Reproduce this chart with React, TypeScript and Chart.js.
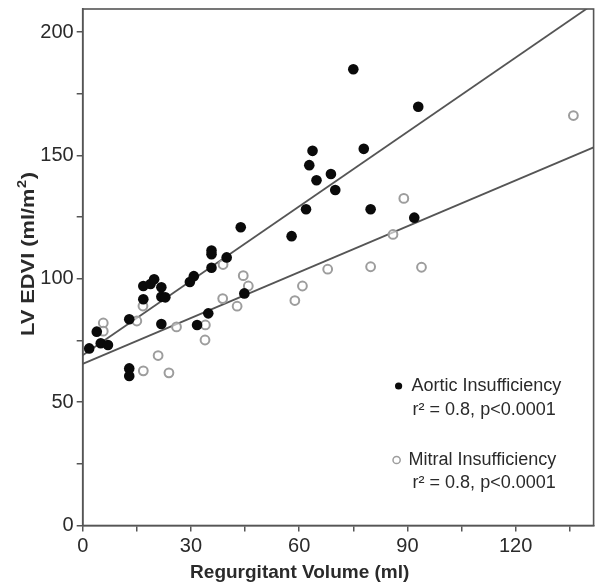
import React, { useEffect, useRef } from 'react';
import { Chart, registerables } from 'chart.js';

Chart.register(...registerables);

// Aortic insufficiency (filled dots)
const aorticX = [1.8, 3.9, 5.0, 7.0, 12.9, 12.9, 12.9, 16.8, 16.8, 18.8, 19.8, 21.8, 21.8, 22.9, 21.8, 29.7, 30.8, 31.7, 34.8, 35.7, 35.7, 35.7, 39.9, 43.8, 44.8, 57.9, 61.9, 62.8, 63.7, 64.8, 68.8, 70.0, 75.0, 77.9, 79.8, 91.9, 93.0];
const aorticY = [71.8, 78.6, 73.9, 73.2, 63.7, 60.6, 83.6, 97.1, 91.7, 97.9, 99.8, 96.6, 92.7, 92.5, 81.7, 98.7, 101.1, 81.3, 86.0, 111.5, 110.0, 104.5, 108.7, 120.9, 94.1, 117.3, 128.2, 146.1, 151.9, 140.0, 142.5, 136.0, 185.0, 152.7, 128.2, 124.8, 169.8];

// Mitral insufficiency (open circles)
const mitralX = [5.7, 5.7, 15.0, 16.7, 16.8, 20.9, 23.9, 26.0, 34.0, 33.9, 38.8, 38.9, 42.8, 44.5, 45.9, 58.8, 60.9, 67.9, 79.8, 86.0, 89.0, 93.9, 136.0];
const mitralY = [82.1, 78.8, 82.9, 89.0, 62.7, 68.9, 61.9, 80.5, 81.3, 75.2, 92.0, 105.8, 88.9, 101.3, 97.1, 91.2, 97.1, 103.9, 104.9, 118.0, 132.6, 104.7, 166.2];

// Regression fits [aortic, mitral]
const fitIntercepts = [69.0, 65.5];
const fitSlopes = [1.006, 0.62];

const seriesNames = ['Aortic Insufficiency', 'Mitral Insufficiency'];
const seriesStats = ['r\u00B2 = 0.8, p<0.0001', 'r\u00B2 = 0.8, p<0.0001'];

const xTickValues = [0, 15, 30, 45, 60, 75, 90, 105, 120, 135];
const xTickLabels = ['0', '', '30', '', '60', '', '90', '', '120', ''];
const yTickValues = [0, 25, 50, 75, 100, 125, 150, 175, 200];
const yTickLabels = ['0', '', '50', '', '100', '', '150', '', '200'];

const xAxisTitle = 'Regurgitant Volume (ml)';
const yAxisTitleMain = 'LV EDVI (ml/m';
const yAxisTitleSup = '2';
const yAxisTitleEnd = ')';

const X_MIN = 0;
const X_MAX = 141.6;
const Y_MIN = 0;
const Y_MAX = 209.4;

const FONT = '"Liberation Sans", Arial, Helvetica, sans-serif';
const AXIS_COLOR = '#555555';
const TEXT_COLOR = '#2a2a2a';

const framePlugin = {
  id: 'framePlugin',
  afterDatasetsDraw(chart: any) {
    const { ctx, chartArea } = chart;
    ctx.save();
    ctx.strokeStyle = AXIS_COLOR;
    ctx.lineWidth = 1.6;
    ctx.strokeRect(chartArea.left, chartArea.top, chartArea.right - chartArea.left, chartArea.bottom - chartArea.top);
    ctx.restore();
  },
};

const titlesPlugin = {
  id: 'titlesPlugin',
  afterDraw(chart: any) {
    const { ctx, chartArea } = chart;
    ctx.save();
    ctx.fillStyle = TEXT_COLOR;
    ctx.font = `bold 19px ${FONT}`;
    ctx.textAlign = 'center';
    ctx.textBaseline = 'middle';
    ctx.fillText(xAxisTitle, chartArea.left + 217, chartArea.bottom + 47);

    // y title: main + superscript, stretched along its length to match
    const mainFont = `bold 18px ${FONT}`;
    const supFont = `bold 12px ${FONT}`;
    ctx.font = mainFont;
    const wMain = ctx.measureText(yAxisTitleMain).width;
    const wEnd = ctx.measureText(yAxisTitleEnd).width;
    ctx.font = supFont;
    const wSup = ctx.measureText(yAxisTitleSup).width + 1;
    const total = wMain + wSup + wEnd;
    const target = 164;
    const sx = target / total;
    ctx.translate(27, chartArea.top + 245);
    ctx.rotate(-Math.PI / 2);
    ctx.scale(sx, 1);
    ctx.textAlign = 'left';
    ctx.textBaseline = 'alphabetic';
    const x0 = -total / 2;
    ctx.font = mainFont;
    ctx.fillText(yAxisTitleMain, x0, 6.5);
    ctx.font = supFont;
    ctx.fillText(yAxisTitleSup, x0 + wMain + 0.5, -1.5);
    ctx.font = mainFont;
    ctx.fillText(yAxisTitleEnd, x0 + wMain + wSup, 6.5);
    ctx.restore();
  },
};

const legendPlugin = {
  id: 'legendPlugin',
  afterDraw(chart: any) {
    const { ctx, chartArea } = chart;
    const r = chartArea.right;
    const rows = [
      { dotX: r - 195, y: 386, textX: r - 182, statY: 410, filled: true },
      { dotX: r - 197, y: 460, textX: r - 185, statY: 483, filled: false },
    ];
    ctx.save();
    ctx.font = `18px ${FONT}`;
    ctx.textBaseline = 'middle';
    ctx.textAlign = 'left';
    rows.forEach((row, i) => {
      ctx.beginPath();
      ctx.arc(row.dotX, row.y, 3.6, 0, Math.PI * 2);
      if (row.filled) {
        ctx.fillStyle = '#0a0a0a';
        ctx.fill();
      } else {
        ctx.strokeStyle = '#9d9d9d';
        ctx.lineWidth = 1.5;
        ctx.stroke();
      }
      ctx.fillStyle = TEXT_COLOR;
      ctx.fillText(seriesNames[i], row.textX, row.y);
      ctx.fillText(seriesStats[i], r - 181, row.statY);
    });
    ctx.restore();
  },
};

export default function App() {
  const canvasRef = useRef<HTMLCanvasElement | null>(null);

  useEffect(() => {
    document.body.style.margin = '0';
    const canvas = canvasRef.current;
    if (!canvas) return;

    const aorticPts = aorticX.map((x, i) => ({ x, y: aorticY[i] }));
    const mitralPts = mitralX.map((x, i) => ({ x, y: mitralY[i] }));
    const fitLine = (k: number) => [
      { x: X_MIN, y: fitIntercepts[k] + fitSlopes[k] * X_MIN },
      { x: X_MAX, y: fitIntercepts[k] + fitSlopes[k] * X_MAX },
    ];

    const chart = new Chart(canvas, {
      type: 'scatter',
      data: {
        datasets: [
          {
            label: seriesNames[0],
            data: aorticPts,
            pointRadius: 5.3,
            pointBackgroundColor: '#0a0a0a',
            pointBorderColor: '#0a0a0a',
            pointBorderWidth: 0,
            order: 0,
          },
          {
            label: seriesNames[1],
            data: mitralPts,
            pointRadius: 4.4,
            pointBackgroundColor: 'rgba(255,255,255,0.6)',
            pointBorderColor: '#9d9d9d',
            pointBorderWidth: 2,
            order: 1,
          },
          {
            label: 'fit aortic',
            data: fitLine(0),
            showLine: true,
            pointRadius: 0,
            borderColor: AXIS_COLOR,
            borderWidth: 1.8,
            order: 2,
          },
          {
            label: 'fit mitral',
            data: fitLine(1),
            showLine: true,
            pointRadius: 0,
            borderColor: AXIS_COLOR,
            borderWidth: 1.8,
            order: 2,
          },
        ],
      },
      options: {
        responsive: false,
        animation: false,
        layout: { padding: { top: 9, right: 6, left: 0, bottom: 0 } },
        plugins: {
          legend: { display: false },
          tooltip: { enabled: false },
          title: { display: false },
        },
        scales: {
          x: {
            type: 'linear',
            min: X_MIN,
            max: X_MAX,
            afterBuildTicks: (scale: any) => {
              scale.ticks = xTickValues.map((v) => ({ value: v }));
            },
            afterFit: (scale: any) => {
              scale.height = 62.5;
              scale.paddingLeft = 0;
              scale.paddingRight = 0;
            },
            ticks: {
              autoSkip: false,
              maxRotation: 0,
              padding: 3,
              color: TEXT_COLOR,
              font: { family: FONT, size: 20 },
              callback: (_v: any, i: number) => xTickLabels[i],
            },
            grid: {
              drawOnChartArea: false,
              drawTicks: true,
              tickLength: 6,
              color: AXIS_COLOR,
              lineWidth: 1.5,
            },
            border: { display: true, color: AXIS_COLOR, width: 1.6 },
          },
          y: {
            type: 'linear',
            min: Y_MIN,
            max: Y_MAX,
            afterBuildTicks: (scale: any) => {
              scale.ticks = yTickValues.map((v) => ({ value: v }));
            },
            afterFit: (scale: any) => {
              scale.width = 82.7;
              scale.paddingTop = 0;
              scale.paddingBottom = 0;
            },
            ticks: {
              autoSkip: false,
              padding: 3,
              color: TEXT_COLOR,
              font: { family: FONT, size: 20 },
              callback: (_v: any, i: number) => yTickLabels[i],
            },
            grid: {
              drawOnChartArea: false,
              drawTicks: true,
              tickLength: 6,
              color: AXIS_COLOR,
              lineWidth: 1.5,
            },
            border: { display: true, color: AXIS_COLOR, width: 1.6 },
          },
        },
      },
      plugins: [framePlugin, titlesPlugin, legendPlugin],
    } as any);

    return () => chart.destroy();
  }, []);

  return (
    <div style={{ width: 600, height: 588, background: '#fff' }}>
      <canvas ref={canvasRef} width={600} height={588} style={{ display: 'block' }} />
    </div>
  );
}
